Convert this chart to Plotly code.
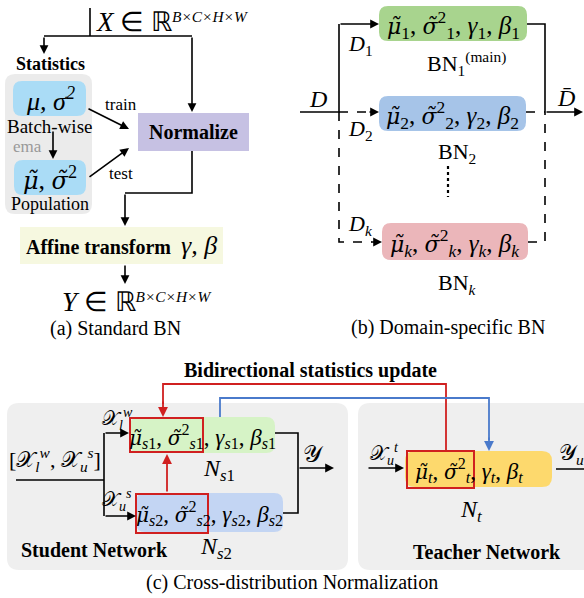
import plotly.graph_objects as go

# ---- labels used in the three panels ----
panel_captions = ["(a) Standard BN", "(b) Domain-specific BN", "(c) Cross-distribution Normalization"]
stat_sources = ["Batch-wise", "Population"]
stat_modes = ["train", "test"]
domain_idx = ["1", "2", "<i>k</i>"]
bn_names = ["BN<sub>1</sub><sup>(main)</sup>", "BN<sub>2</sub>", "BN<sub><i>k</i></sub>"]
student_idx = ["<i>s</i>1", "<i>s</i>2"]
teacher_idx = "<i>t</i>"
network_names = ["Student Network", "Teacher Network"]
update_title = "Bidirectional statistics update"
tensor_shape = "B×C×H×W"

SERIF = "Liberation Serif, Times New Roman, serif"
BLACK = "#000000"
RED = "#d02020"
BLUE = "#4a7acb"

shapes = []
annots = []


def txt(x, y, text, size=20, color=BLACK, xanchor="center", bold=False, italic=False):
    if bold:
        text = "<b>" + text + "</b>"
    if italic:
        text = "<i>" + text + "</i>"
    annots.append(dict(x=x, y=y, xref="x", yref="y", text=text, showarrow=False,
                       xanchor=xanchor, yanchor="middle",
                       font=dict(family=SERIF, size=size, color=color)))


def poly(pts, color=BLACK, width=1.6, dash="solid"):
    d = "M {} {}".format(*pts[0]) + "".join(" L {} {}".format(*p) for p in pts[1:])
    shapes.append(dict(type="path", path=d, xref="x", yref="y",
                       line=dict(color=color, width=width, dash=dash)))


def arrow(x0, y0, x1, y1, color=BLACK, width=1.6, size=1.1):
    annots.append(dict(x=x1, y=y1, ax=x0, ay=y0, xref="x", yref="y", axref="x", ayref="y",
                       text="", showarrow=True, arrowhead=2, arrowsize=size,
                       arrowwidth=width, arrowcolor=color, standoff=0, startstandoff=0))


def rrect(x0, y0, x1, y1, r, fill, line=None, lw=0):
    d = (f"M {x0 + r} {y0} L {x1 - r} {y0} Q {x1} {y0} {x1} {y0 + r} "
         f"L {x1} {y1 - r} Q {x1} {y1} {x1 - r} {y1} L {x0 + r} {y1} "
         f"Q {x0} {y1} {x0} {y1 - r} L {x0} {y0 + r} Q {x0} {y0} {x0 + r} {y0} Z")
    shapes.append(dict(type="path", path=d, xref="x", yref="y", fillcolor=fill,
                       line=dict(color=line or fill, width=lw if line else 0), layer="below"))


def rect(x0, y0, x1, y1, fill="rgba(0,0,0,0)", line=None, lw=0, layer="below"):
    shapes.append(dict(type="rect", x0=x0, y0=y0, x1=x1, y1=y1, xref="x", yref="y",
                       fillcolor=fill, line=dict(color=line or "rgba(0,0,0,0)", width=lw),
                       layer=layer))


def tilde(ch, size):
    # accented symbol set in a font with proper combining-mark positioning
    return f"<span style='font-family:DejaVu Serif;font-size:{size}px'><i>{ch}\u0303</i></span>"


def bn_params(sub, size):
    s = round(size * 0.86)
    return (f"{tilde('μ', s)}<sub>{sub}</sub>, {tilde('σ', s)}<sup>2</sup><sub>{sub}</sub>, "
            f"<i>γ</i><sub>{sub}</sub>, <i>β</i><sub>{sub}</sub>")


def space_label(sym):
    # large symbol, small italic shape exponent (exponent follows the base font size)
    return (f"<span style='font-size:27px'><i>{sym}</i> ∈ ℝ</span>"
            f"<sup><i>{tensor_shape}</i></sup>")


# ================= (a) Standard BN =================
txt(94, 22, space_label("X"), size=22, xanchor="left")
poly([(90, 8), (90, 36)])
poly([(44, 36), (192, 36)])
arrow(44, 36, 44, 54)
arrow(192, 36, 192, 112)
txt(50, 64, "Statistics", size=18, bold=True)

rrect(5, 74, 92, 214, 10, "#ebebeb")
rrect(13, 81, 86, 116, 9, "#aadcf6")
txt(50, 99, "μ, σ<sup>2</sup>", size=26, italic=True)
txt(49, 126, stat_sources[0], size=19)
txt(27, 146, "ema", size=17, color="#999999")
arrow(53, 130, 53, 159)
rrect(14, 160, 86, 195, 9, "#aadcf6")
txt(50, 178, f"{tilde('μ', 24)}, {tilde('σ', 24)}<sup>2</sup>", size=26)
txt(50, 204, stat_sources[1], size=18)

rect(138, 113, 249, 151, fill="#c6c1e3")
txt(193, 132, "Normalize", size=20, bold=True)
txt(121, 104, stat_modes[0], size=17)
arrow(87, 108, 129, 129)
txt(121, 173, stat_modes[1], size=17)
arrow(88, 178, 129, 148)

poly([(192, 151), (192, 193), (125, 193)])
arrow(125, 193, 125, 226)
rect(20, 227, 223, 264, fill="#f6f8e0")
txt(121, 245, "<b>Affine transform</b>  <i><span style='font-size:26px'>γ, β</span></i>", size=20)
arrow(125, 264, 125, 284)
txt(60, 302, space_label("Y"), size=22, xanchor="left")
txt(115, 328, panel_captions[0], size=20)

# ================= (b) Domain-specific BN =================
box_x = [(379, 527), (379, 526), (382, 528)]
box_h = [(6, 41), (96, 131), (223, 260)]
box_fill = ["#a8d48e", "#a6c4e8", "#ebb6ba"]
bn_label_pos = [(466, 63), (457, 153), (457, 284)]
dom_label_y = [45, 130, 225]

poly([(300, 112), (339, 112), (339, 24)])
arrow(339, 24, 379, 24)
poly([(339, 112), (370, 112)], dash="dash")
arrow(368, 112, 379, 112)
poly([(339, 112), (339, 242), (372, 242)], dash="dash")
arrow(370, 242, 382, 242)
poly([(527, 24), (545, 24), (545, 112)])
poly([(526, 112), (545, 112)], dash="dash")
poly([(528, 242), (545, 242), (545, 112)], dash="dash")
arrow(545, 112, 583, 112)
poly([(448, 166), (448, 197)], dash="dot", width=2.2)

for i in range(3):
    (x0, x1), (y0, y1) = box_x[i], box_h[i]
    rrect(x0, y0, x1, y1, 9, box_fill[i])
    txt((x0 + x1) / 2, (y0 + y1) / 2 + 1, bn_params(domain_idx[i], 25), size=25)
    txt(bn_label_pos[i][0], bn_label_pos[i][1], bn_names[i], size=22)
    txt(346, dom_label_y[i], f"<i>D</i><sub>{domain_idx[i]}</sub>", size=22, xanchor="left")

txt(318, 99, "D", size=24, italic=True)
txt(566, 98, "D̄", size=24, italic=True)
txt(448, 327, panel_captions[1], size=20)

# ================= (c) Cross-distribution Normalization =================
rrect(7, 403, 348, 570, 12, "#efefef")
rrect(358, 403, 600, 570, 12, "#efefef")
txt(310, 370, update_title, size=20, bold=True)

# statistics exchange paths
poly([(446, 451), (446, 384), (163, 384), (163, 404)], color=RED, width=1.8)
arrow(163, 400, 163, 417, color=RED, width=1.8)
poly([(220, 417), (220, 398), (489, 398), (489, 440)], color=BLUE, width=1.8)
arrow(489, 436, 489, 451, color=BLUE, width=1.8)

# student normalizations
s_boxes = [(130, 417, 275, 453, "#d6f3c6"), (136, 493, 283, 532, "#c3d5f3")]
s_red = [(130, 418, 203, 452), (136, 494, 208, 533)]
s_name_pos = [(219, 470), (216, 548)]
for i, s in enumerate(student_idx):
    x0, y0, x1, y1, fc = s_boxes[i]
    rrect(x0, y0, x1, y1, 9, fc)
    rx0, ry0, rx1, ry1 = s_red[i]
    rect(rx0, ry0, rx1, ry1, line=RED, lw=2, layer="above")
    txt((x0 + x1) / 2, (y0 + y1) / 2 + 1, bn_params(s, 23), size=23)
    txt(s_name_pos[i][0], s_name_pos[i][1], f"<i>N</i><sub>{s}</sub>", size=24)

arrow(167, 493, 167, 454, color=RED, width=1.8)

txt(55, 459, "[𝒳<sub><i>l</i></sub><sup><i>w</i></sup>, 𝒳<sub><i>u</i></sub><sup><i>s</i></sup>]", size=22)
poly([(16, 480), (104, 480)])
poly([(104, 433), (104, 516)])
arrow(104, 433, 129, 433)
arrow(104, 516, 136, 516)
txt(100, 419, "𝒳<sub><i>l</i></sub><sup><i>w</i></sup>", size=20, xanchor="left")
txt(100, 500, "𝒳<sub><i>u</i></sub><sup><i>s</i></sup>", size=20, xanchor="left")

poly([(275, 433), (298, 433), (298, 513), (283, 513)])
arrow(298, 468, 334, 468)
txt(313, 454, "𝒴", size=24)
txt(94, 550, network_names[0], size=20, bold=True)

# teacher normalization
arrow(367, 468, 404, 468)
txt(368, 454, "𝒳<sub><i>u</i></sub><sup><i>t</i></sup>", size=20, xanchor="left")
rrect(405, 451, 552, 487, 10, "#fdd96d")
rect(407, 451, 474, 488, line=RED, lw=2, layer="above")
txt(469, 470, bn_params(teacher_idx, 23), size=23)
txt(471, 511, f"<i>N</i><sub>{teacher_idx}</sub>", size=24)
poly([(556, 469), (590, 469)])
txt(557, 454, "𝒴<sub><i>u</i></sub>", size=22, xanchor="left")
txt(487, 552, network_names[1], size=20, bold=True)

txt(292, 582, panel_captions[2], size=20)

fig = go.Figure()
fig.update_layout(
    width=584, height=598,
    margin=dict(l=0, r=0, t=0, b=0),
    paper_bgcolor="white", plot_bgcolor="white",
    xaxis=dict(range=[0, 584], visible=False, fixedrange=True),
    yaxis=dict(range=[598, 0], visible=False, fixedrange=True),
    shapes=shapes, annotations=annots, showlegend=False,
)
fig.write_html("out.html")
